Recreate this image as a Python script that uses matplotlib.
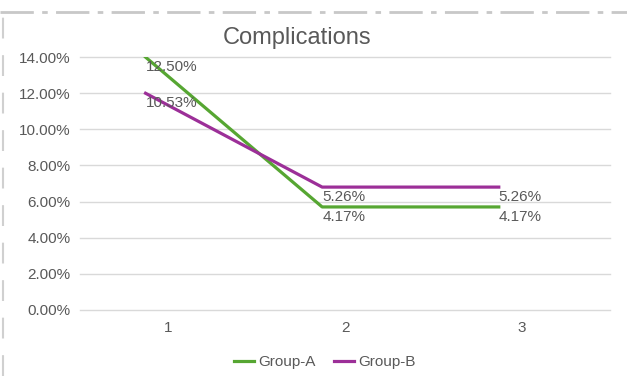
import matplotlib.pyplot as plt
import matplotlib.transforms as mtransforms
from matplotlib.lines import Line2D

plt.rcParams['font.family'] = ['Liberation Sans', 'DejaVu Sans']

# data
categories = [1, 2, 3]
group_a = [0.140, 0.057, 0.057]
group_b = [0.120, 0.068, 0.068]
labels_a = ["12.50%", "4.17%", "4.17%"]
labels_b = ["10.53%", "5.26%", "5.26%"]
yticks = [0, 0.02, 0.04, 0.06, 0.08, 0.10, 0.12, 0.14]

green = '#56a632'
purple = '#9c2f98'
txt = '#595959'

fig = plt.figure(figsize=(6.27, 3.76), dpi=100)
ax = fig.add_axes([0.128, 0.176, 0.845, 0.672])

# the lines sit a little left of the category centres in the original
shift = ax.transData + mtransforms.ScaledTranslation(-23 / 100, 0, fig.dpi_scale_trans)

ax.plot(categories, group_a, color=green, lw=2.3, label='Group-A', transform=shift)
ax.plot(categories, group_b, color=purple, lw=2.3, label='Group-B', transform=shift)

for x, y, s in zip(categories, group_a, labels_a):
    ax.annotate(s, (x, y), xycoords=shift, xytext=(0, -7), textcoords='offset points',
                ha='left', va='center', fontsize=11, color=txt)
for x, y, s in zip(categories, group_b, labels_b):
    ax.annotate(s, (x, y), xycoords=shift, xytext=(0, -7), textcoords='offset points',
                ha='left', va='center', fontsize=11, color=txt)

ax.set_ylim(0, 0.14)
ax.set_xlim(0.5, 3.5)
ax.set_yticks(yticks)
ax.set_yticklabels(['%.2f%%' % (v * 100) for v in yticks])
ax.set_xticks(categories)
ax.set_xticklabels([str(c) for c in categories])

ax.grid(axis='y', color='#d9d9d9', lw=1)
for gl in ax.get_ygridlines():
    gl.set_clip_on(False)
ax.set_axisbelow(True)
for sp in ax.spines.values():
    sp.set_visible(False)
ax.tick_params(length=0, colors=txt, labelsize=11)
ax.tick_params(axis='y', pad=7)
ax.tick_params(axis='x', pad=8)

fig.text(297 / 627, 1 - 38 / 376, 'Complications', ha='center', va='center',
         fontsize=17, color=txt)

fig.legend(loc='center', bbox_to_anchor=(325 / 627, 1 - 362 / 376), ncol=2,
           frameon=False, fontsize=11, handlelength=1.3, handletextpad=0.3,
           columnspacing=1.2, labelcolor=txt)

# dashed screenshot border
fig.add_artist(Line2D([0, 1], [1 - 12 / 376, 1 - 12 / 376], transform=fig.transFigure,
                      color='#c8c8c8', lw=2, ls=(0, (12, 3, 2, 3))))
fig.add_artist(Line2D([3 / 627, 3 / 627], [0, 1 - 12 / 376], transform=fig.transFigure,
                      color='#d0d0d0', lw=1.5, ls=(0, (10, 8))))

fig.savefig('out.png', dpi=100)
